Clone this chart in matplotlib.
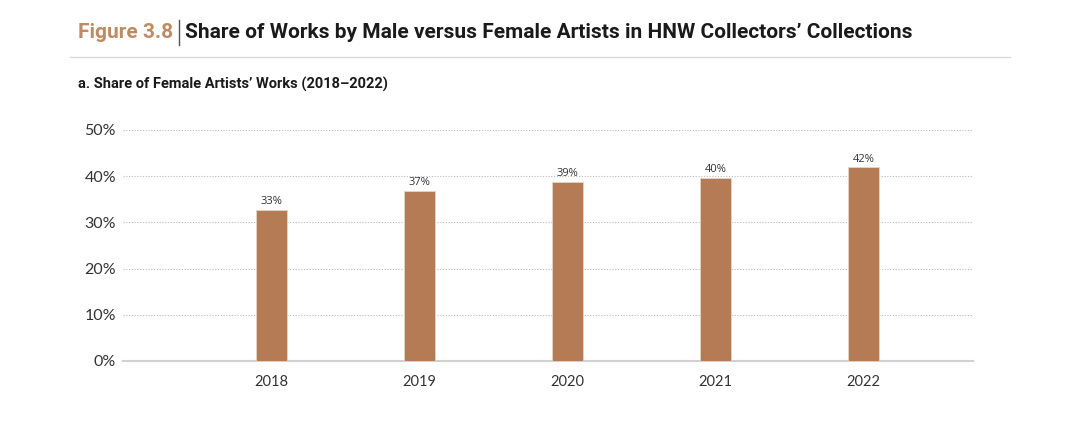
import matplotlib.pyplot as plt
from matplotlib.lines import Line2D

# Data
years = ["2018", "2019", "2020", "2021", "2022"]
female_share = [32.7, 36.9, 38.7, 39.7, 41.9]
value_labels = ["33%", "37%", "39%", "40%", "42%"]
y_ticks = [0, 10, 20, 30, 40, 50]

BAR_COLOR = "#B47B55"
ACCENT = "#C08A63"
TEXT = "#333333"

fig = plt.figure(figsize=(10.8, 4.25), dpi=100)
ax = fig.add_axes([123 / 1080, 1 - 361 / 425, 850 / 1080, 231 / 425])

x = list(range(len(years)))
bars = ax.bar(x, female_share, width=0.21, color=BAR_COLOR, edgecolor="#E6D5C8",
              linewidth=0.6, zorder=3)

for xi, v, lab in zip(x, female_share, value_labels):
    ax.text(xi, v + 0.6, lab, ha="center", va="bottom", fontsize=8,
            color=TEXT, family="Open Sans")

ax.set_xlim(-1.0, 4.74)
ax.set_ylim(0, 50)
ax.set_yticks(y_ticks)
ax.set_yticklabels([f"{t}%" for t in y_ticks], fontsize=11.5, color=TEXT, family="Lato")
ax.set_xticks(x)
ax.set_xticklabels(years, fontsize=10.5, color=TEXT, family="Lato")
ax.tick_params(axis="x", length=0, pad=10)
ax.tick_params(axis="y", length=0, pad=5)

ax.grid(axis="y", color="#BBBBBB", linestyle=(0, (1, 1.5)), linewidth=0.8, zorder=0)
for s in ["top", "right", "left"]:
    ax.spines[s].set_visible(False)
ax.spines["bottom"].set_color("#D0D0D0")
ax.spines["bottom"].set_linewidth(1.5)

# Title block
t1 = fig.text(78 / 1080, 1 - 32 / 425, "Figure 3.8", fontsize=15, fontweight="bold",
              color=ACCENT, family="Roboto", va="center")
fig.canvas.draw()
bb = t1.get_window_extent()
x_bar = (bb.x1 + 6) / 1080
fig.add_artist(Line2D([x_bar, x_bar], [1 - 20 / 425, 1 - 45 / 425], color="#555555",
                      linewidth=1.0))
fig.text(x_bar + 6 / 1080, 1 - 32 / 425,
         "Share of Works by Male versus Female Artists in HNW Collectors\u2019 Collections",
         fontsize=15, fontweight="bold", color="#1A1A1A", family="Roboto", va="center")
fig.add_artist(Line2D([70 / 1080, 1010 / 1080], [1 - 57 / 425, 1 - 57 / 425],
                      color="#D9D9D9", linewidth=1.0))
fig.text(78 / 1080, 1 - 84 / 425, "a. Share of Female Artists\u2019 Works (2018\u20132022)",
         fontsize=10.5, fontweight="bold", color="#1A1A1A", family="Roboto", va="center")

fig.savefig("out.png", dpi=100)
